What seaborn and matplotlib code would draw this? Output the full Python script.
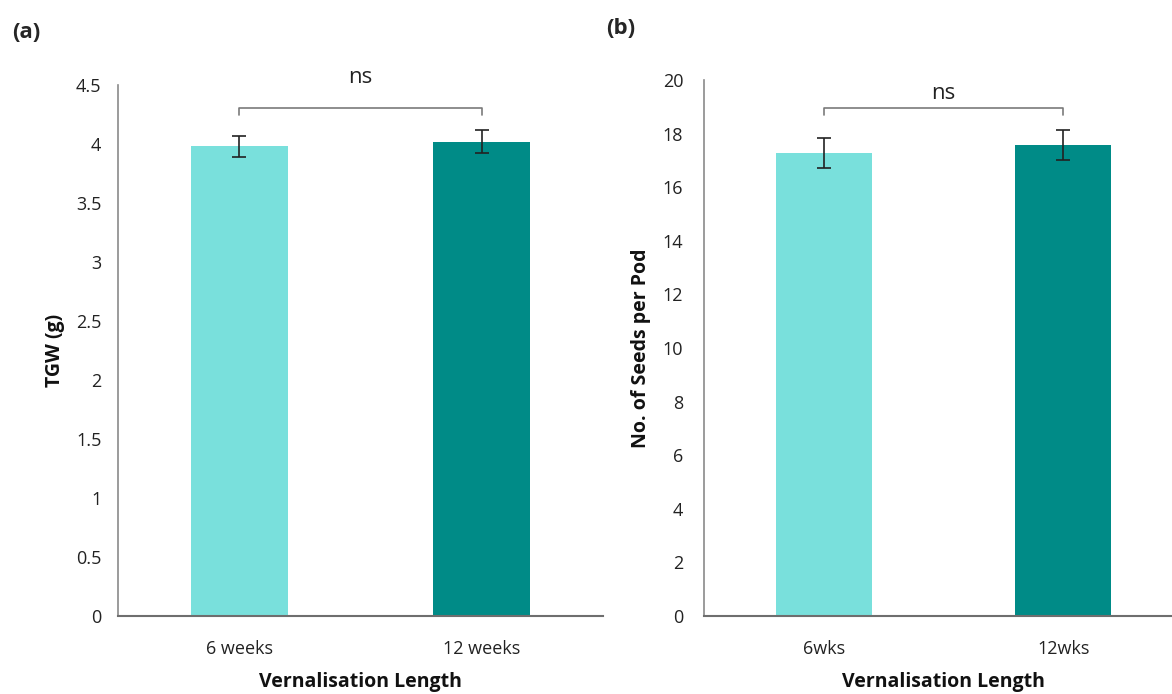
import matplotlib
matplotlib.use("Agg")
import matplotlib.pyplot as plt
import seaborn as sns
import pandas as pd

# Data
cats_a = ["6 weeks", "12 weeks"]
tgw = [3.98, 4.02]
tgw_err = [0.09, 0.095]

cats_b = ["6wks", "12wks"]
seeds = [17.28, 17.58]
seeds_err = [0.55, 0.56]

colors = ["#79E0DC", "#008B87"]

sns.set_theme(style="white")
plt.rcParams['font.family'] = ['Open Sans', 'DejaVu Sans']

fig = plt.figure(figsize=(11.72, 6.94), dpi=100)
ax1 = fig.add_axes([118/1172, 78/694, 485/1172, 531/694])
ax2 = fig.add_axes([704/1172, 78/694, 479/1172, 536/694])

def panel(ax, cats, vals, errs, ymax, step, ylabel, br_y, br_drop, ns_y, fmt, ypad):
    df = pd.DataFrame({"cat": cats, "val": vals})
    sns.barplot(data=df, x="cat", y="val", hue="cat", palette=colors, width=0.4,
                ax=ax, legend=False, saturation=1, edgecolor="none")
    ax.errorbar(range(len(cats)), vals, yerr=errs, fmt="none", ecolor="#222222",
                elinewidth=1.2, capsize=5, capthick=1.2)
    ax.set_xlim(-0.5, 1.5)
    ax.set_ylim(0, ymax)
    ticks = [i * step for i in range(int(round(ymax / step)) + 1)]
    ax.set_yticks(ticks)
    ax.set_yticklabels([fmt(t) for t in ticks])
    ax.tick_params(axis="both", length=0, labelsize=13, colors="#222222")
    ax.tick_params(axis="y", pad=ypad)
    ax.tick_params(axis="x", pad=17)
    for s in ["top", "right"]:
        ax.spines[s].set_visible(False)
    ax.spines["left"].set_color("#8a8a8a")
    ax.spines["bottom"].set_color("#6e6e6e")
    ax.spines["left"].set_linewidth(1.2)
    ax.spines["bottom"].set_linewidth(1.5)
    ax.set_xlabel("Vernalisation Length", fontsize=14, fontweight="bold", labelpad=10, color="#111111")
    ax.set_ylabel(ylabel, fontsize=14, fontweight="bold", labelpad=8, color="#111111")
    ax.plot([0, 0, 1, 1], [br_y - br_drop, br_y, br_y, br_y - br_drop], color="#7a7a7a",
            lw=1.2, clip_on=False)
    ax.text(0.5, ns_y, "ns", ha="center", va="center", fontsize=16, color="#222222", clip_on=False)

panel(ax1, cats_a, tgw, tgw_err, 4.5, 0.5, "TGW (g)", 4.305, 0.06, 4.56,
      lambda t: f"{t:g}", 12)
panel(ax2, cats_b, seeds, seeds_err, 20, 2, "No. of Seeds per Pod", 18.96, 0.26, 19.5,
      lambda t: f"{int(t)}", 15)

fig.text(12/1172, 1 - 32/694, "(a)", fontsize=16, fontweight="bold", va="center", ha="left")
fig.text(606/1172, 1 - 28/694, "(b)", fontsize=16, fontweight="bold", va="center", ha="left")

fig.savefig("out.png", dpi=100)
